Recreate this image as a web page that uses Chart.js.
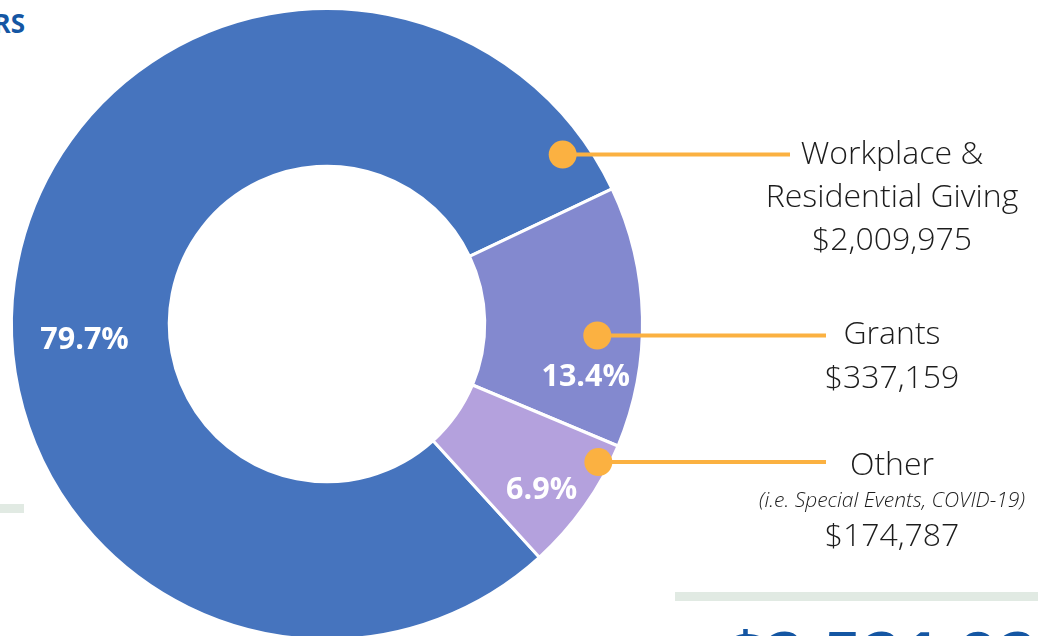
<!DOCTYPE html>
<html>
<head>
<meta charset="utf-8">
<title>Revenue sources</title>
<script src="https://cdn.jsdelivr.net/npm/chart.js@4.4.1/dist/chart.umd.min.js"></script>
<style>
  html, body { margin: 0; padding: 0; width: 1038px; height: 636px; overflow: hidden; background: #fff; }
  body { position: relative; font-family: 'Open Sans', sans-serif; }
  #chart-box { position: absolute; left: 0; top: 0; width: 1038px; height: 660px; }
  .heading { position: absolute; right: 1013px; top: 10px; font-size: 26px; line-height: 26px; font-weight: 700; color: #1456a3; white-space: nowrap; }
  .rule { position: absolute; background: #e1eae3; }
  .total { position: absolute; left: 726px; top: 621px; font-size: 68px; line-height: 68px; font-weight: 700; color: #1456a3; white-space: nowrap; }
</style>
</head>
<body>
<div class="heading">RS</div>
<div class="rule" style="left:0;top:504px;width:24px;height:9px"></div>
<div class="rule" style="left:675px;top:592px;width:363px;height:9px"></div>
<div id="chart-box"><canvas id="chart"></canvas></div>
<div class="total" id="total"></div>
<script>
const categories = ['Workplace & Residential Giving', 'Grants', 'Other'];
const labelLines = [['Workplace &', 'Residential Giving'], ['Grants'], ['Other']];
const notes = [null, null, '(i.e. Special Events, COVID-19)'];
const amounts = [2009975, 337159, 174787];
const colors = ['#4674be', '#8389cf', '#b4a1dd'];

const ORANGE = '#fbb141';
const TEXT = '#1c1c1c';
const total = amounts.reduce((a, b) => a + b, 0);
const money = v => '$' + v.toLocaleString('en-US');

document.getElementById('total').textContent = money(total);

// where things sit inside each arc: af = fraction along the arc, rf = fraction across the ring
const pctSpots = [{ af: 0.448, rf: 0.54 }, { af: 0.771, rf: 0.675 }, { af: 0.60, rf: 0.72 }];
const dotSpots = [{ af: 0.964, rf: 0.84 }, { af: 0.578, rf: 0.715 }, { af: 0.169, rf: 0.93 }];
const lineEnds = [790, 826, 826];
const textX = 892;
// baseline offsets from the dot, per text line (name lines, note, amount)
const textRows = [
  [9, 52, 95],
  [8, 52],
  [13, 45, 84],
];

const callouts = {
  id: 'callouts',
  afterDatasetsDraw(chart) {
    const ctx = chart.ctx;
    const arcs = chart.getDatasetMeta(0).data;
    ctx.save();
    arcs.forEach((arc, i) => {
      const p = arc.getProps(['x', 'y', 'startAngle', 'endAngle', 'innerRadius', 'outerRadius'], true);
      const at = (s) => {
        const a = p.startAngle + s.af * (p.endAngle - p.startAngle);
        const r = p.innerRadius + s.rf * (p.outerRadius - p.innerRadius);
        return { x: p.x + Math.cos(a) * r, y: p.y + Math.sin(a) * r };
      };

      // percentage inside the slice
      const pc = at(pctSpots[i]);
      ctx.fillStyle = '#fff';
      ctx.font = "700 30.5px 'Open Sans'";
      ctx.textAlign = 'center';
      ctx.textBaseline = 'middle';
      ctx.fillText((amounts[i] / total * 100).toFixed(1) + '%', pc.x, pc.y);

      // leader line + dot
      const d = at(dotSpots[i]);
      ctx.strokeStyle = ORANGE;
      ctx.lineWidth = 4;
      ctx.beginPath();
      ctx.moveTo(d.x, d.y);
      ctx.lineTo(lineEnds[i], d.y);
      ctx.stroke();
      ctx.fillStyle = ORANGE;
      ctx.beginPath();
      ctx.arc(d.x, d.y, 14, 0, Math.PI * 2);
      ctx.fill();

      // text block
      const rows = textRows[i];
      const lines = labelLines[i].map(t => ({ t, f: "300 32px 'Open Sans'" }));
      if (notes[i]) lines.push({ t: notes[i], f: "italic 300 21px 'Open Sans'" });
      lines.push({ t: money(amounts[i]), f: "300 32px 'Open Sans'" });
      ctx.fillStyle = TEXT;
      ctx.textBaseline = 'alphabetic';
      lines.forEach((ln, k) => {
        ctx.font = ln.f;
        ctx.fillText(ln.t, textX, d.y + rows[k]);
      });
    });
    ctx.restore();
  }
};

new Chart(document.getElementById('chart'), {
  type: 'doughnut',
  data: {
    labels: categories,
    datasets: [{
      data: amounts,
      backgroundColor: colors,
      borderColor: '#ffffff',
      borderWidth: 3,
      hoverOffset: 0,
    }],
  },
  options: {
    responsive: true,
    maintainAspectRatio: false,
    animation: false,
    cutout: '50%',
    rotation: 137.7,
    layout: { padding: { left: 10, top: 7, right: 394, bottom: 19 } },
    plugins: {
      legend: { display: false },
      tooltip: { enabled: false },
    },
  },
  plugins: [callouts],
});
</script>
</body>
</html>
